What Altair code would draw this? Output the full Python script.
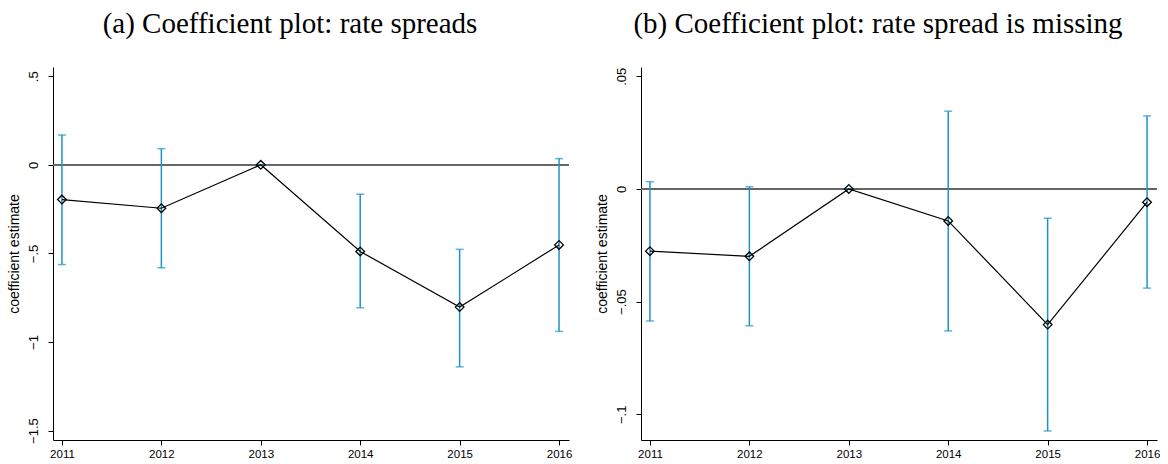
import altair as alt
import pandas as pd

# Event-study coefficients (base year 2013) with 95% confidence bounds
years = [2011, 2012, 2013, 2014, 2015, 2016]

spread_coef = [-0.196, -0.245, 0.0, -0.489, -0.803, -0.452]
spread_lo = [-0.563, -0.581, 0.0, -0.807, -1.140, -0.940]
spread_hi = [0.168, 0.091, 0.0, -0.166, -0.477, 0.035]

missing_coef = [-0.0276, -0.0299, 0.0, -0.0142, -0.0602, -0.0059]
missing_lo = [-0.0586, -0.0607, 0.0, -0.0630, -0.1074, -0.0440]
missing_hi = [0.0032, 0.0010, 0.0, 0.0345, -0.0130, 0.0324]

spread_ticks = [0.5, 0, -0.5, -1, -1.5]
missing_ticks = [0.05, 0, -0.05, -0.1]

title_a = "(a) Coefficient plot: rate spreads"
title_b = "(b) Coefficient plot: rate spread is missing"

CI_BLUE = "#1f93c9"
W, H = 516, 373

# Stata-style labels: drop leading zero, typographic minus
LABEL_EXPR = "replace(replace(format(datum.value, '.2~f'), '-', '\u2212'), '0.', '.')"


def panel(coef, lo, hi, ydomain, yticks, title):
    df = pd.DataFrame({"year": years, "coef": coef, "lo": lo, "hi": hi})
    base = alt.Chart(df)

    x = alt.X("year:Q",
              scale=alt.Scale(domain=[2010.91, 2016.1], nice=False, zero=False),
              axis=alt.Axis(values=years, format="d", title=None))
    y_scale = alt.Scale(domain=ydomain, nice=False, zero=False)
    y_axis = alt.Axis(values=yticks, labelExpr=LABEL_EXPR,
                      title="coefficient estimate")

    zero = alt.Chart(df).mark_rule(color="#666666", strokeWidth=1.5).encode(
        y=alt.datum(0, scale=y_scale, axis=y_axis)
    )
    bars = base.mark_rule(color=CI_BLUE, strokeWidth=1.5).encode(
        x=x, y=alt.Y("lo:Q", scale=y_scale, axis=y_axis), y2="hi:Q"
    )
    cap_lo = base.mark_tick(orient="horizontal", size=8, thickness=1.5,
                            color=CI_BLUE).encode(
        x=x, y=alt.Y("lo:Q", scale=y_scale, axis=y_axis)
    )
    cap_hi = base.mark_tick(orient="horizontal", size=8, thickness=1.5,
                            color=CI_BLUE).encode(
        x=x, y=alt.Y("hi:Q", scale=y_scale, axis=y_axis)
    )
    line = base.mark_line(color="black", strokeWidth=1.2).encode(
        x=x, y=alt.Y("coef:Q", scale=y_scale, axis=y_axis)
    )
    pts = base.mark_point(shape="diamond", filled=False, size=75,
                          color="black", strokeWidth=1.3, opacity=1).encode(
        x=x, y=alt.Y("coef:Q", scale=y_scale, axis=y_axis)
    )
    return alt.layer(zero, bars, cap_lo, cap_hi, line, pts).properties(
        width=W, height=H, title=alt.TitleParams(title, dx=-21)
    )


left = panel(spread_coef, spread_lo, spread_hi, [-1.553, 0.552],
             spread_ticks, title_a)
right = panel(missing_coef, missing_lo, missing_hi, [-0.1114, 0.0541],
              missing_ticks, title_b)

chart = alt.hconcat(left, right, spacing=23).properties(
    padding={"left": 7, "top": 10, "right": 0, "bottom": 0},
    background="white",
).configure_view(
    stroke=None
).configure_axis(
    grid=False,
    domainColor="black",
    domainWidth=1,
    tickColor="black",
    tickSize=5,
    labelColor="black",
    labelFont="Liberation Sans",
    titleFont="Liberation Sans",
    titleFontWeight="normal",
    titleColor="black",
).configure_axisX(
    labelFontSize=11.5,
    labelPadding=3,
    labelFlush=False,
).configure_axisY(
    labelFontSize=13,
    labelAngle=-90,
    labelAlign="center",
    labelBaseline="bottom",
    labelPadding=8,
    titleFontSize=14,
    titlePadding=6,
).configure_title(
    font="Liberation Serif",
    fontSize=29,
    fontWeight="normal",
    color="black",
    anchor="middle",
    frame="group",
    offset=28,
)

chart.save("out.html", embed_options={"renderer": "svg", "actions": False})
